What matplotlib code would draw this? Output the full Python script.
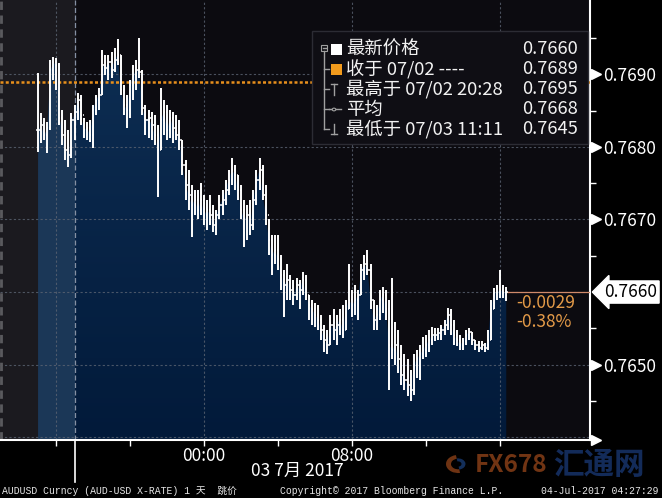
import numpy as np
import matplotlib.pyplot as plt
import matplotlib.transforms as mtransforms
from matplotlib.colors import LinearSegmentedColormap
from matplotlib.patches import Rectangle, Polygon, Circle, Wedge
from matplotlib.lines import Line2D

plt.rcParams['font.family'] = ['Noto Sans CJK SC', 'DejaVu Sans']

# --- AUDUSD 10-minute bars, 02 Jul 15:00 -> 03 Jul 16:20 (hours from 03 Jul 00:00) ---
bar_start_hour = -9.0
bar_step_hour = 1.0 / 6.0

highs = [
    0.76902, 0.76847, 0.76840, 0.76835, 0.76920, 0.76924, 0.76923, 0.76916, 0.76851, 0.76837,
    0.76824, 0.76847, 0.76858, 0.76875, 0.76872, 0.76840, 0.76835, 0.76837, 0.76858, 0.76872,
    0.76881, 0.76934, 0.76927, 0.76927, 0.76931, 0.76937, 0.76949, 0.76927, 0.76886, 0.76872,
    0.76892, 0.76913, 0.76920, 0.76950, 0.76906, 0.76858, 0.76851, 0.76848, 0.76844, 0.76830,
    0.76881, 0.76865, 0.76858, 0.76851, 0.76848, 0.76844, 0.76837, 0.76810, 0.76782, 0.76768,
    0.76748, 0.76741, 0.76741, 0.76751, 0.76734, 0.76727, 0.76734, 0.76720, 0.76713, 0.76734,
    0.76741, 0.76755, 0.76768, 0.76785, 0.76775, 0.76762, 0.76748, 0.76727, 0.76720, 0.76727,
    0.76741, 0.76768, 0.76785, 0.76775, 0.76748, 0.76700, 0.76679, 0.76679, 0.76679, 0.76651,
    0.76631, 0.76638, 0.76624, 0.76617, 0.76620, 0.76617, 0.76627, 0.76624, 0.76596, 0.76589,
    0.76585, 0.76582, 0.76569, 0.76555, 0.76548, 0.76569, 0.76576, 0.76569, 0.76576, 0.76582,
    0.76589, 0.76638, 0.76603, 0.76610, 0.76603, 0.76638, 0.76651, 0.76658, 0.76638, 0.76589,
    0.76582, 0.76603, 0.76607, 0.76603, 0.76589, 0.76620, 0.76558, 0.76548, 0.76527, 0.76514,
    0.76507, 0.76493, 0.76514, 0.76520, 0.76527, 0.76538, 0.76541, 0.76548, 0.76552, 0.76551,
    0.76551, 0.76555, 0.76562, 0.76578, 0.76576, 0.76562, 0.76548, 0.76541, 0.76537, 0.76548,
    0.76551, 0.76545, 0.76534, 0.76532, 0.76532, 0.76530, 0.76548, 0.76589, 0.76606, 0.76610,
    0.76631, 0.76610, 0.76607,
]
lows = [
    0.76793, 0.76806, 0.76810, 0.76792, 0.76824, 0.76892, 0.76879, 0.76830, 0.76803, 0.76782,
    0.76773, 0.76785, 0.76810, 0.76837, 0.76830, 0.76813, 0.76810, 0.76807, 0.76799, 0.76844,
    0.76851, 0.76872, 0.76899, 0.76892, 0.76895, 0.76903, 0.76913, 0.76872, 0.76844, 0.76826,
    0.76840, 0.76865, 0.76879, 0.76895, 0.76844, 0.76817, 0.76813, 0.76810, 0.76803, 0.76731,
    0.76796, 0.76817, 0.76810, 0.76813, 0.76806, 0.76810, 0.76796, 0.76762, 0.76727, 0.76713,
    0.76676, 0.76706, 0.76700, 0.76706, 0.76693, 0.76686, 0.76693, 0.76683, 0.76679, 0.76700,
    0.76706, 0.76720, 0.76734, 0.76748, 0.76741, 0.76727, 0.76700, 0.76662, 0.76672, 0.76679,
    0.76686, 0.76720, 0.76741, 0.76727, 0.76693, 0.76651, 0.76624, 0.76638, 0.76631, 0.76603,
    0.76565, 0.76589, 0.76589, 0.76582, 0.76589, 0.76576, 0.76596, 0.76589, 0.76562, 0.76555,
    0.76552, 0.76548, 0.76534, 0.76518, 0.76514, 0.76527, 0.76534, 0.76527, 0.76541, 0.76537,
    0.76548, 0.76576, 0.76565, 0.76569, 0.76562, 0.76596, 0.76617, 0.76624, 0.76576, 0.76548,
    0.76548, 0.76562, 0.76571, 0.76562, 0.76465, 0.76507, 0.76500, 0.76489, 0.76472, 0.76465,
    0.76456, 0.76450, 0.76458, 0.76482, 0.76479, 0.76507, 0.76510, 0.76518, 0.76527, 0.76532,
    0.76534, 0.76534, 0.76541, 0.76548, 0.76541, 0.76527, 0.76525, 0.76520, 0.76520, 0.76527,
    0.76534, 0.76527, 0.76520, 0.76518, 0.76520, 0.76518, 0.76520, 0.76534, 0.76576, 0.76589,
    0.76592, 0.76592, 0.76587,
]
closes = [
    0.76824, 0.76830, 0.76817, 0.76826, 0.76906, 0.76917, 0.76913, 0.76840, 0.76817, 0.76796,
    0.76789, 0.76837, 0.76848, 0.76865, 0.76844, 0.76824, 0.76826, 0.76817, 0.76851, 0.76865,
    0.76872, 0.76913, 0.76909, 0.76917, 0.76906, 0.76920, 0.76927, 0.76879, 0.76858, 0.76851,
    0.76886, 0.76899, 0.76906, 0.76903, 0.76854, 0.76837, 0.76840, 0.76830, 0.76817, 0.76796,
    0.76837, 0.76848, 0.76824, 0.76840, 0.76826, 0.76817, 0.76810, 0.76775, 0.76748, 0.76734,
    0.76720, 0.76727, 0.76713, 0.76727, 0.76706, 0.76713, 0.76706, 0.76693, 0.76706, 0.76720,
    0.76727, 0.76741, 0.76755, 0.76768, 0.76762, 0.76741, 0.76713, 0.76700, 0.76706, 0.76693,
    0.76727, 0.76755, 0.76768, 0.76734, 0.76706, 0.76672, 0.76651, 0.76658, 0.76645, 0.76624,
    0.76610, 0.76617, 0.76603, 0.76596, 0.76610, 0.76603, 0.76617, 0.76596, 0.76582, 0.76576,
    0.76569, 0.76562, 0.76548, 0.76534, 0.76527, 0.76555, 0.76548, 0.76555, 0.76562, 0.76548,
    0.76576, 0.76589, 0.76582, 0.76589, 0.76596, 0.76631, 0.76638, 0.76631, 0.76589, 0.76562,
    0.76569, 0.76589, 0.76596, 0.76576, 0.76527, 0.76520, 0.76527, 0.76507, 0.76486, 0.76479,
    0.76472, 0.76465, 0.76500, 0.76507, 0.76514, 0.76520, 0.76527, 0.76534, 0.76541, 0.76541,
    0.76544, 0.76548, 0.76555, 0.76569, 0.76555, 0.76541, 0.76534, 0.76527, 0.76532, 0.76541,
    0.76545, 0.76534, 0.76527, 0.76523, 0.76527, 0.76523, 0.76534, 0.76576, 0.76599, 0.76600,
    0.76603, 0.76600, 0.76600,
]

session_start = -7.0          # 17:00 on 07/02, new trading day
prev_close = 0.7689
last_price = 0.7660
net_change = '-0.0029'
pct_change = '-0.38%'

legend_labels = ['最新价格', '收于 07/02 ----', '最高于 07/02 20:28', '平均', '最低于 07/03 11:11']
legend_values = [0.7660, 0.7689, 0.7695, 0.7668, 0.7645]

price_ticks = [0.7650, 0.7660, 0.7670, 0.7680, 0.7690]
price_minor = [0.7645, 0.7655, 0.7665, 0.7675, 0.7685, 0.7695]
grid_prices = [0.7640, 0.7650, 0.7660, 0.7670, 0.7680, 0.7690]
time_ticks = [-8, -4, 0, 4, 8, 12, 16]
time_grid = [-8, 0, 8, 16]
time_labels = {0: '00:00', 8: '08:00'}
date_label = '03 7月 2017'

footer_left = 'AUDUSD Curncy (AUD-USD X-RATE) 1 天  跳价'
footer_mid = 'Copyright© 2017 Bloomberg Finance L.P.'
footer_right = '04-Jul-2017 04:27:29'

# --- figure ---
W, H = 662, 498
fig = plt.figure(figsize=(W / 100, H / 100), dpi=100, facecolor='black')
ax = fig.add_axes([0, 58.5 / H, 590 / W, 439.5 / H])

def fx(x):
    return x / W

def fy(y):
    return 1 - y / H

t = bar_start_hour + bar_step_hour * np.arange(len(closes))
highs = np.array(highs)
lows = np.array(lows)
closes = np.array(closes)
opens = np.concatenate([[closes[0]], closes[:-1]])

xmin, xmax = -11.03, 20.86
ymin, ymax = 0.763967, 0.770026
ax.set_xlim(xmin, xmax)
ax.set_ylim(ymin, ymax)
ax.set_facecolor('#0c0b10')
ax.axvspan(xmin, session_start, color='#1b1a1f', zorder=0)

# filled area under closes
pre = t <= session_start
ax.fill_between(t[pre], closes[pre], ymin, color='#1b3757', lw=0, zorder=1)
main = t >= session_start
verts = [(t[main][0], ymin)] + list(zip(t[main], closes[main])) + [(t[main][-1], ymin)]
clip = Polygon(verts, closed=True, facecolor='none', edgecolor='none')
ax.add_patch(clip)
cmap = LinearSegmentedColormap.from_list('bb', ['#021a3a', '#0d2d52'])
grad = np.linspace(0, 1, 256).reshape(-1, 1)
img = ax.imshow(grad, extent=[session_start, t[-1], ymin, closes.max()], origin='lower',
                aspect='auto', cmap=cmap, zorder=1, interpolation='bilinear')
img.set_clip_path(clip)

# grid
for p in grid_prices:
    ax.axhline(p, color='#5b6472', lw=0.8, ls=(0, (2, 2)), alpha=0.8, zorder=2)
for g in time_grid:
    ax.axvline(g, color='#5b6472', lw=0.8, ls=(0, (2, 2)), alpha=0.8, zorder=2)
ax.axvline(session_start, color='#8590a3', lw=0.9, ls=(0, (4, 2)), zorder=2)
ax.axvline(xmin + 0.03, color='#5a5a5e', lw=2, ls=(0, (3, 2)), zorder=2)

# previous close and last price lines
ax.axhline(prev_close, color='#e8901c', lw=1.8, ls=(0, (1.2, 0.9)), zorder=3)
ax.plot([t[-1], xmax], [last_price, last_price], color='#d08a6a', lw=0.9, zorder=3)

# OHLC bars
ax.vlines(t, lows, highs, color='white', lw=1.4, zorder=4)
ax.hlines(opens, t - 0.07, t, color='white', lw=1.1, zorder=4)
ax.hlines(closes, t, t + 0.07, color='white', lw=1.1, zorder=4)

ax.text(16.9, 0.76585, net_change, color='#e39a48', fontsize=12.5, va='center', zorder=6)
ax.text(16.9, 0.76558, pct_change, color='#e39a48', fontsize=12.5, va='center', zorder=6)

# axes styling
for s in ['left', 'top']:
    ax.spines[s].set_visible(False)
ax.spines['right'].set_color('white')
ax.spines['right'].set_linewidth(1.5)
ax.spines['bottom'].set_color('white')
ax.spines['bottom'].set_linewidth(1.5)

ax.yaxis.tick_right()
ax.set_yticks(price_ticks)
ax.set_yticklabels(['' if p == last_price else f'{p:.4f}' for p in price_ticks])
ax.set_yticks(price_minor, minor=True)
ax.tick_params(axis='y', which='major', length=0, pad=9.5, labelcolor='white', labelsize=12.5)
ax.tick_params(axis='y', which='minor', length=4.5, width=1, color='white', direction='out')

ax.set_xticks(time_ticks)
ax.set_xticklabels([time_labels.get(v, '') for v in time_ticks])
ax.tick_params(axis='x', which='major', length=4, width=1, color='white', direction='out',
               pad=1.5, labelcolor='white', labelsize=12.5)

btrans = mtransforms.blended_transform_factory(ax.transAxes, ax.transData)
for p in price_ticks:
    if p != last_price:
        ax.plot(1 + 5.5 / 590, p, marker='>', ms=6.5, color='white', transform=btrans,
                clip_on=False, zorder=7)
ax.plot(1 + 5.5 / 590, ymin, marker='>', ms=6.5, color='white', transform=btrans,
        clip_on=False, zorder=7)
ax.text(1 + 14 / 590, last_price, f'{last_price:.4f}', transform=btrans, ha='left', va='center',
        color='black', fontsize=12.5, clip_on=False, zorder=8,
        bbox=dict(boxstyle='larrow,pad=0.12', fc='white', ec='white'))

fig.text(fx(297), fy(471), date_label, color='white', fontsize=12.5, ha='center', va='center')
fig.add_artist(Line2D([fx(74.5), fx(74.5)], [fy(440), fy(482)], color='white', lw=1.2,
                      transform=fig.transFigure))

# legend box
fig.add_artist(Rectangle((fx(312), fy(144)), (588 - 312) / W, (144 - 31) / H,
                         transform=fig.transFigure, facecolor='#0f0e14',
                         edgecolor='#2c2c34', lw=1, zorder=5))
row_y = [49.5, 69.5, 89.5, 109.5, 129.5]
for ry, lab, val in zip(row_y, legend_labels, legend_values):
    fig.text(fx(346), fy(ry), lab, color='#f2f2f2', fontsize=13.2, va='center', zorder=6)
    fig.text(fx(578), fy(ry), f'{val:.4f}', color='#f2f2f2', fontsize=13.2, va='center',
             ha='right', zorder=6)

tree = '#a0a0a0'
def seg(x0, y0, x1, y1, c=tree, lw=1.0):
    fig.add_artist(Line2D([fx(x0), fx(x1)], [fy(y0), fy(y1)], color=c, lw=lw,
                          transform=fig.transFigure, zorder=6))

fig.add_artist(Rectangle((fx(321), fy(51.5)), 6 / W, 6 / H, transform=fig.transFigure,
                         facecolor='none', edgecolor=tree, lw=0.8, zorder=6))
seg(322.5, 48.5, 325.5, 48.5)
seg(324, 51.5, 324, row_y[4])
for ry in row_y[1:]:
    seg(324, ry, 329, ry)
fig.add_artist(Rectangle((fx(331), fy(55)), 11 / W, 11 / H, transform=fig.transFigure,
                         facecolor='white', edgecolor='none', zorder=6))
fig.add_artist(Rectangle((fx(331), fy(75)), 11 / W, 11 / H, transform=fig.transFigure,
                         facecolor='#f29b1d', edgecolor='none', zorder=6))
seg(331, 84, 337, 84)
seg(334, 84, 334, 95)
seg(329, 109.5, 341, 109.5)
fig.add_artist(Circle((fx(334), fy(109.5)), 1.8 / W, transform=fig.transFigure,
                      facecolor='#0f0e14', edgecolor=tree, lw=0.8, zorder=7))
seg(334, 124, 334, 134)
seg(331, 134, 337, 134)

# watermark
fig.add_artist(Wedge((fx(458), fy(464)), 12 / W, 100, 280, width=5 / W,
                     transform=fig.transFigure, facecolor='#8a4018', edgecolor='none', alpha=0.8))
fig.add_artist(Wedge((fx(458), fy(464)), 7.5 / W, 280, 100, width=4 / W,
                     transform=fig.transFigure, facecolor='#183a70', edgecolor='none', alpha=0.8))
fig.text(fx(475), fy(465), 'FX678', color='#8e4218', fontsize=17.5, fontweight='bold',
         va='center', alpha=0.8)
fig.text(fx(553), fy(465), '汇通网', color='#17336a', fontsize=22, fontweight='bold',
         va='center', alpha=0.85)

# footer
mono = ['Liberation Mono', 'Noto Sans CJK SC']
fig.text(fx(2), fy(491), footer_left, color='#e6e6e6', fontsize=7.0, family=mono, va='center')
fig.text(fx(280), fy(491), footer_mid, color='#e6e6e6', fontsize=7.0, family=mono, va='center')
fig.text(fx(541), fy(491), footer_right, color='#e6e6e6', fontsize=7.0, family=mono, va='center')

fig.savefig('out.png', dpi=100, facecolor='black')
